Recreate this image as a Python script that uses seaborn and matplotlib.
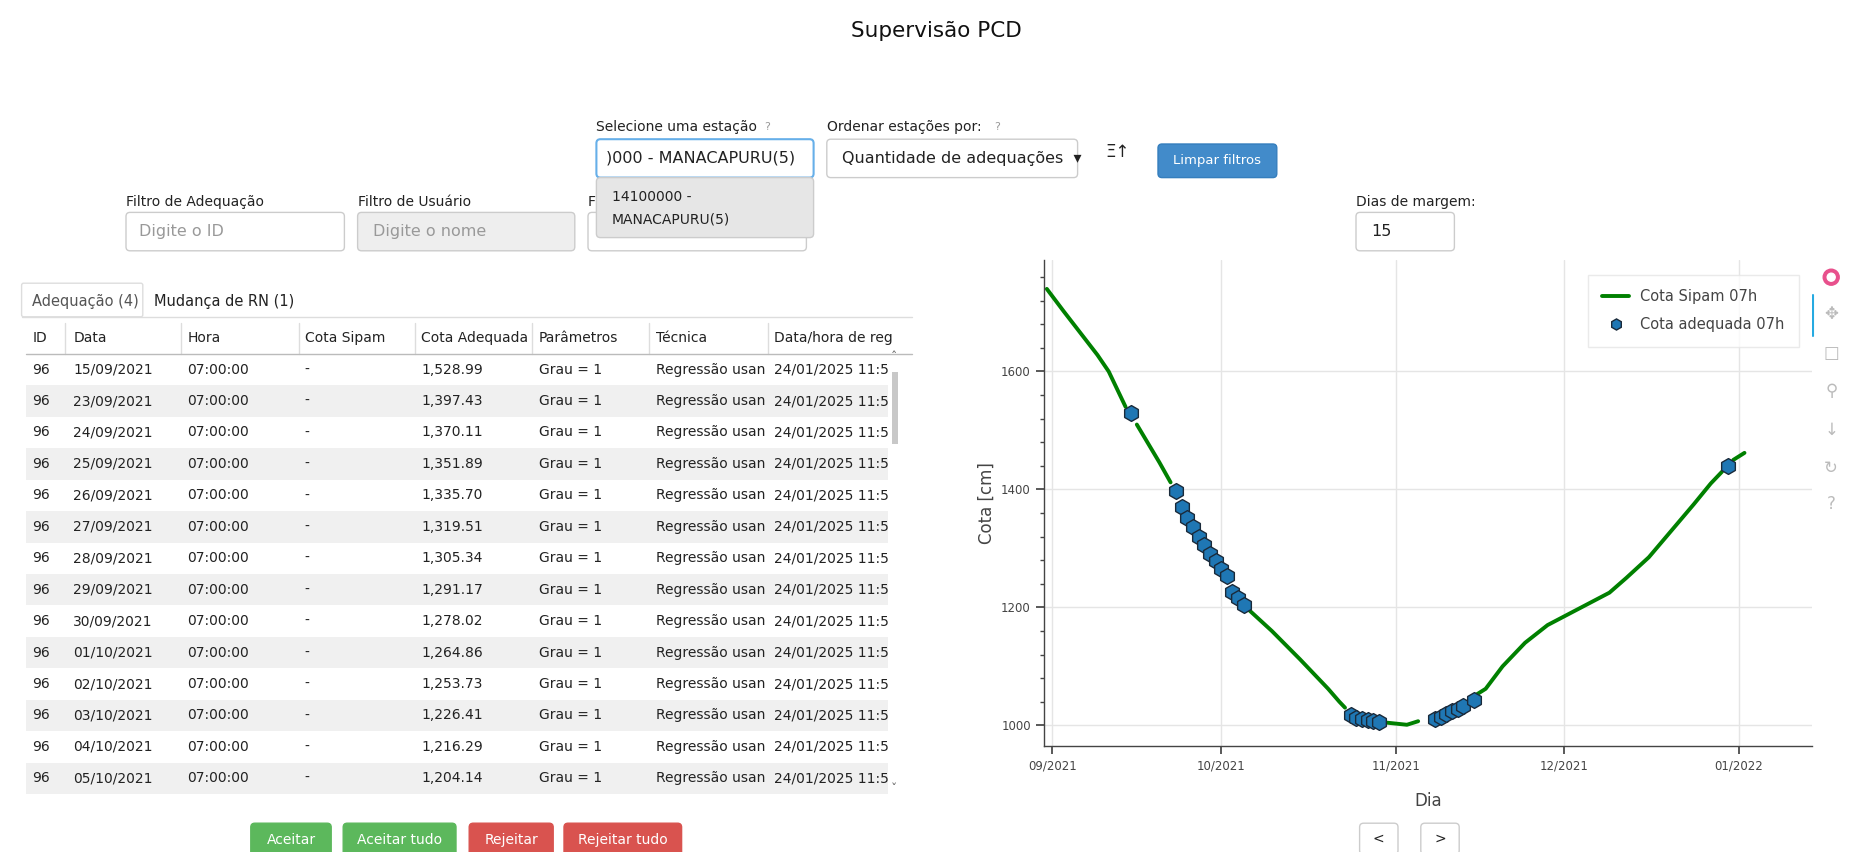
import matplotlib
matplotlib.use("Agg")
import matplotlib.pyplot as plt
import matplotlib.dates as mdates
from matplotlib.patches import FancyBboxPatch, Rectangle
from matplotlib.lines import Line2D
from matplotlib.ticker import MultipleLocator
import seaborn as sns
import pandas as pd
import numpy as np

sns.set_theme(style="white")
plt.rcParams['font.family'] = ['DejaVu Sans']

# ---------------- data ----------------
line_dates = ["2021-08-31","2021-09-03","2021-09-06","2021-09-09","2021-09-11","2021-09-13","2021-09-14",
              "2021-09-16","2021-09-18","2021-09-20","2021-09-22",
              "2021-10-06","2021-10-10","2021-10-15","2021-10-20","2021-10-22","2021-10-23",
              "2021-10-30","2021-11-01","2021-11-03","2021-11-05",
              "2021-11-15","2021-11-17","2021-11-20","2021-11-24","2021-11-28","2021-12-01","2021-12-05",
              "2021-12-09","2021-12-12","2021-12-16","2021-12-20","2021-12-24","2021-12-27","2021-12-29",
              "2021-12-31","2022-01-02"]
line_values = [1740,1702,1665,1628,1600,1560,1540,
               1510,1478,1446,1412,
               1195,1160,1112,1062,1040,1030,
               1005,1003,1001,1007,
               1050,1062,1100,1140,1170,1185,1205,
               1225,1250,1285,1330,1375,1410,1430,
               1450,1462]
line_segment = [1]*7 + [2]*4 + [3]*6 + [4]*4 + [5]*14 + [6]*2

adq_dates = ["2021-09-15","2021-09-23","2021-09-24","2021-09-25","2021-09-26","2021-09-27","2021-09-28",
             "2021-09-29","2021-09-30","2021-10-01","2021-10-02","2021-10-03","2021-10-04","2021-10-05",
             "2021-10-24","2021-10-25","2021-10-26","2021-10-27","2021-10-28","2021-10-29",
             "2021-11-08","2021-11-09","2021-11-10","2021-11-11","2021-11-12","2021-11-13","2021-11-15",
             "2021-12-30"]
adq_values = [1528.99,1397.43,1370.11,1351.89,1335.70,1319.51,1305.34,1291.17,1278.02,1264.86,1253.73,
              1226.41,1216.29,1204.14,
              1017,1013,1011,1009,1008,1005,
              1010,1015,1019,1024,1028,1033,1043,
              1440]

tbl_dates = ["15/09/2021","23/09/2021","24/09/2021","25/09/2021","26/09/2021","27/09/2021","28/09/2021",
             "29/09/2021","30/09/2021","01/10/2021","02/10/2021","03/10/2021","04/10/2021","05/10/2021"]
tbl_cota = ["1,528.99","1,397.43","1,370.11","1,351.89","1,335.70","1,319.51","1,305.34","1,291.17",
            "1,278.02","1,264.86","1,253.73","1,226.41","1,216.29","1,204.14"]
tbl_headers = ["ID","Data","Hora","Cota Sipam","Cota Adequada","Parâmetros","Técnica","Data/hora de reg"]

# ---------------- figure ----------------
S = 1.2
fig = plt.figure(figsize=(18.74, 8.52), dpi=100)
bg = fig.add_axes([0, 0, 1, 1])
bg.set_xlim(0, 1874); bg.set_ylim(852, 0); bg.axis("off")

def box(x, y, w, h, fc="white", ec="#cccccc", lw=1, r=4):
    bg.add_patch(FancyBboxPatch((x*S, y*S), w*S, h*S, boxstyle=f"round,pad=0,rounding_size={r}",
                                fc=fc, ec=ec, lw=lw))

def txt(x, y, s, size=11, color="#222222", ha="left", va="center", **kw):
    bg.text(x*S, y*S, s, fontsize=size, color=color, ha=ha, va=va, clip_on=False, **kw)

txt(780, 26, "Supervisão PCD", size=15.5, ha="center", color="#111111")

# top controls
txt(497, 106, "Selecione uma estação", size=10)
txt(639, 106, "?", size=8, color="#999999", ha="center")
box(497, 116, 181, 32, ec="#66afe9", lw=1.5)
txt(505, 132, ")000 - MANACAPURU(5)", size=11.5)
txt(689, 106, "Ordenar estações por:", size=10)
txt(831, 106, "?", size=8, color="#999999", ha="center")
box(689, 116, 209, 32)
txt(702, 132, "Quantidade de adequações  ▾", size=11.5)
txt(931, 127, "Ξ↑", size=12, ha="center")
box(965, 120, 99, 28, fc="#428bca", ec="#357ebd")
txt(1014, 134, "Limpar filtros", size=9.5, color="white", ha="center")

# filters
txt(105, 168, "Filtro de Adequação", size=10)
box(105, 177, 182, 32)
txt(116, 193, "Digite o ID", size=11.5, color="#999999")
txt(298, 168, "Filtro de Usuário", size=10)
box(298, 177, 181, 32, fc="#eeeeee")
txt(311, 193, "Digite o nome", size=11.5, color="#999999")
txt(490, 168, "F", size=10)
box(490, 177, 182, 32)
box(497, 148, 181, 50, fc="#e6e6e6", ec="#cccccc")
txt(510, 164, "14100000 -", size=10)
txt(510, 183, "MANACAPURU(5)", size=10)
txt(1130, 168, "Dias de margem:", size=10)
box(1130, 177, 82, 32)
txt(1143, 193, "15", size=11.5)

# tabs
box(18, 236, 101, 28, fc="white", ec="#dddddd", r=2)
txt(27, 251, "Adequação (4)", size=10.5, color="#555555")
txt(128, 251, "Mudança de RN (1)", size=10.5)
bg.plot([18*S, 760*S], [264*S, 264*S], color="#dddddd", lw=1)

# table
col_x = [27, 61, 156, 254, 351, 449, 547, 645]
sep_x = [54, 151, 249, 346, 443, 541, 640]
for c, h in zip(col_x, tbl_headers):
    txt(c, 282, h, size=10)
for sx in sep_x:
    bg.plot([sx*S, sx*S], [269*S, 295*S], color="#dddddd", lw=1)
bg.plot([22*S, 760*S], [295*S, 295*S], color="#bbbbbb", lw=1)
step = 26.2
for i, (d, c) in enumerate(zip(tbl_dates, tbl_cota)):
    yc = 308 + i*step
    if i % 2 == 1:
        bg.add_patch(Rectangle((22*S, (yc-step/2)*S), 718*S, step*S, fc="#f0f0f0", ec="none"))
    row = ["96", d, "07:00:00", "-", c, "Grau = 1", "Regressão usan", "24/01/2025 11:5"]
    for cx, v in zip(col_x, row):
        txt(cx, yc, v, size=10)
bg.add_patch(Rectangle((743*S, 310*S), 5*S, 60*S, fc="#c8c8c8", ec="none"))
txt(745, 298, "ˆ", size=9, ha="center", color="#666666")
txt(745, 658, "ˇ", size=9, ha="center", color="#666666")

# buttons
for x, w, lab, col in [(209, 67, "Aceitar", "#5cb85c"), (286, 94, "Aceitar tudo", "#5cb85c"),
                       (391, 70, "Rejeitar", "#d9534f"), (470, 98, "Rejeitar tudo", "#d9534f")]:
    box(x, 686, w, 30, fc=col, ec=col)
    txt(x + w/2, 700, lab, size=10, color="white", ha="center")
box(1133, 686, 32, 26); txt(1149, 699, "<", size=10, ha="center")
box(1184, 686, 32, 26); txt(1200, 699, ">", size=10, ha="center")

# toolbar
for yy, g in [(262, "✥"), (294, "□"), (326, "⚲"), (358, "↓"), (390, "↻"), (420, "?")]:
    txt(1526, yy, g, size=12, color="#bbbbbb", ha="center")
bg.add_patch(plt.Circle((1526*S, 231*S), 8, color="#e8508c"))
bg.add_patch(plt.Circle((1526*S, 231*S), 4, color="white"))
bg.plot([1511*S, 1511*S], [246*S, 280*S], color="#26aae1", lw=1.5)

# ---------------- chart ----------------
ax = fig.add_axes([1044/1874, 1 - 746/852, 768/1874, 486/852])
ldf = pd.DataFrame({"date": pd.to_datetime(line_dates), "cota": line_values, "seg": line_segment})
adf = pd.DataFrame({"date": pd.to_datetime(adq_dates), "cota": adq_values})
sns.lineplot(data=ldf, x="date", y="cota", units="seg", estimator=None, color="green", lw=2.8, ax=ax)
sns.scatterplot(data=adf, x="date", y="cota", marker="h", s=130, color="#1f77b4",
                edgecolor="#1a2a3a", linewidth=1, ax=ax, zorder=3)
ax.set_xlim(pd.Timestamp("2021-08-30 12:00"), pd.Timestamp("2022-01-14"))
ax.set_ylim(965, 1789)
ax.xaxis.set_major_locator(mdates.MonthLocator())
ax.xaxis.set_major_formatter(mdates.DateFormatter("%m/%Y"))
ax.yaxis.set_major_locator(MultipleLocator(200))
ax.yaxis.set_minor_locator(MultipleLocator(40))
ax.grid(True, color="#e5e5e5", lw=1)
for s in ["top", "right"]:
    ax.spines[s].set_visible(False)
for s in ["left", "bottom"]:
    ax.spines[s].set_color("#444444"); ax.spines[s].set_linewidth(1)
ax.tick_params(axis="both", which="major", length=6, color="#444444", labelsize=8.5,
               labelcolor="#444444", left=True, bottom=True, direction="out")
ax.tick_params(axis="y", which="minor", length=3, color="#444444", left=True)
ax.set_xlabel("Dia", fontsize=12, color="#444444", labelpad=14)
ax.set_ylabel("Cota [cm]", fontsize=12, color="#444444")
handles = [Line2D([], [], color="green", lw=2.8),
           Line2D([], [], marker="h", ls="none", markersize=8, markerfacecolor="#1f77b4",
                  markeredgecolor="#1a2a3a")]
leg = ax.legend(handles, ["Cota Sipam 07h", "Cota adequada 07h"], loc="upper right",
                fontsize=10.5, frameon=True, fancybox=False, borderpad=1.0, labelspacing=0.9,
                handlelength=1.8, bbox_to_anchor=(0.993, 0.985))
leg.get_frame().set_edgecolor("#e5e5e5")
for t in leg.get_texts():
    t.set_color("#444444")

fig.savefig("out.png", dpi=100)
